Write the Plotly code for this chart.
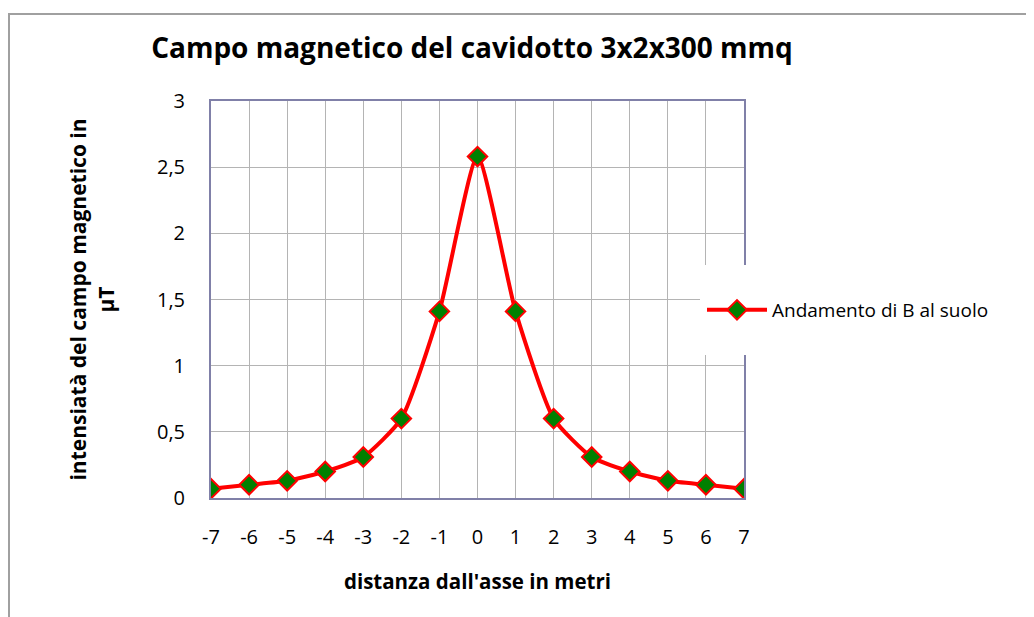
import plotly.graph_objects as go

distanza = [-7, -6, -5, -4, -3, -2, -1, 0, 1, 2, 3, 4, 5, 6, 7]
campo_B = [0.07, 0.10, 0.13, 0.20, 0.31, 0.60, 1.41, 2.58, 1.41, 0.60, 0.31, 0.20, 0.13, 0.10, 0.07]
y_ticks = [0, 0.5, 1, 1.5, 2, 2.5, 3]
y_labels = ["0", "0,5", "1", "1,5", "2", "2,5", "3"]

# page body has an 8px margin: compensate
OFF = 8
W, H = 1034 - OFF, 617 - OFF
L, R, T, B = 211, 744, 101, 498          # screen coords of plot area
pw, ph = R - L, B - T

def px(x):
    return (x - L) / pw

def py(y):
    return (B - y) / ph

FONT = "Open Sans"

fig = go.Figure()
fig.add_trace(go.Scatter(
    x=distanza, y=campo_B, mode="lines+markers",
    name="Andamento di B al suolo",
    line=dict(color="#ff0000", width=4, shape="spline", smoothing=0.55),
    marker=dict(symbol="diamond", size=15, color="#008000",
                line=dict(color="#ff0000", width=2)),
))

fig.update_layout(
    width=W, height=H,
    margin=dict(l=L - OFF, r=1034 - R, t=T - OFF, b=617 - B, autoexpand=False),
    paper_bgcolor="white", plot_bgcolor="white",
    separators=",.",
    font=dict(family=FONT, color="black", size=20),
    title=dict(text="<b>Campo magnetico del cavidotto 3x2x300 mmq</b>",
               x=px(472), xref="paper", xanchor="center",
               y=1 - (48 - OFF) / H, yanchor="middle", yref="container",
               font=dict(size=28, family=FONT)),
    showlegend=True,
    legend=dict(x=px(702), y=py(310), xanchor="left", yanchor="middle",
                bgcolor="rgba(0,0,0,0)", borderwidth=0,
                itemwidth=60, font=dict(size=19, family=FONT)),
    xaxis=dict(range=[-7, 7], tickmode="array", tickvals=distanza,
               ticktext=[str(v) for v in distanza],
               showgrid=True, gridcolor="#b4b4b4", gridwidth=1,
               showline=True, linecolor="#8080a8", linewidth=2, mirror=True,
               zeroline=False, ticks="", ticklabelstandoff=20,
               tickfont=dict(size=20),
               title=dict(text="<b>distanza dall'asse in metri</b>",
                          font=dict(size=20.5), standoff=26)),
    yaxis=dict(range=[0, 3], tickmode="array", tickvals=y_ticks, ticktext=y_labels,
               showgrid=True, gridcolor="#b4b4b4", gridwidth=1,
               showline=True, linecolor="#8080a8", linewidth=2, mirror=True,
               zeroline=False, ticks="", ticklabelstandoff=20,
               tickfont=dict(size=20),
               title=dict(text="<b>intensiatà del campo magnetico in<br>µT</b>",
                          font=dict(size=21), standoff=37)),
    shapes=[
        dict(type="rect", xref="paper", yref="paper", layer="above",
             x0=px(700), x1=px(1045), y0=py(355), y1=py(265),
             fillcolor="white", line=dict(width=0)),
        dict(type="rect", xref="paper", yref="paper", layer="above",
             x0=px(9), x1=px(1050), y0=py(640), y1=py(14),
             fillcolor="rgba(0,0,0,0)", line=dict(color="#a0a0a0", width=2)),
    ],
)

fig.write_html("out.html")
